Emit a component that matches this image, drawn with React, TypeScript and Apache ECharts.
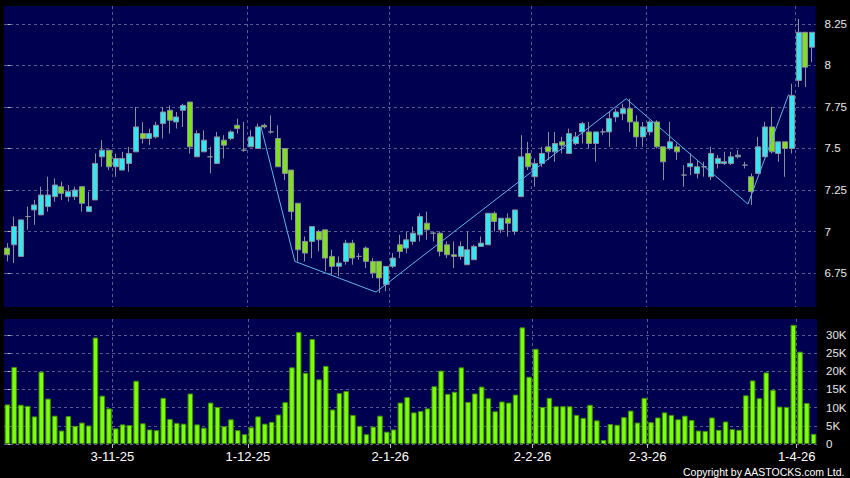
import React, { useEffect, useRef } from "react";
import * as echarts from "echarts";

// Trading days (d-m-yy)
const dates: string[] = [
  "9-10-25","10-10-25","13-10-25","14-10-25","15-10-25","16-10-25","17-10-25","20-10-25","21-10-25","22-10-25",
  "23-10-25","24-10-25","27-10-25","28-10-25","30-10-25","31-10-25",
  "3-11-25","4-11-25","5-11-25","6-11-25","7-11-25","10-11-25","11-11-25","12-11-25","13-11-25","14-11-25",
  "17-11-25","18-11-25","19-11-25","20-11-25","21-11-25","24-11-25","25-11-25","26-11-25","27-11-25","28-11-25",
  "1-12-25","2-12-25","3-12-25","4-12-25","5-12-25","8-12-25","9-12-25","10-12-25","11-12-25","12-12-25",
  "15-12-25","16-12-25","17-12-25","18-12-25","19-12-25","22-12-25","23-12-25","24-12-25","29-12-25","30-12-25","31-12-25",
  "2-1-26","5-1-26","6-1-26","7-1-26","8-1-26","9-1-26","12-1-26","13-1-26","14-1-26","15-1-26",
  "16-1-26","19-1-26","20-1-26","21-1-26","22-1-26","23-1-26","26-1-26","27-1-26","28-1-26","29-1-26","30-1-26",
  "2-2-26","3-2-26","4-2-26","5-2-26","6-2-26","9-2-26","10-2-26","11-2-26","12-2-26","13-2-26",
  "16-2-26","20-2-26","23-2-26","24-2-26","25-2-26","26-2-26","27-2-26",
  "2-3-26","3-3-26","4-3-26","5-3-26","6-3-26","9-3-26","10-3-26","11-3-26","12-3-26","13-3-26",
  "16-3-26","17-3-26","18-3-26","19-3-26","20-3-26","23-3-26","24-3-26","25-3-26","26-3-26","27-3-26",
  "30-3-26","31-3-26","1-4-26","2-4-26","8-4-26",
];

const opens: number[] = [
  6.90,6.92,6.85,7.09,7.13,7.10,7.15,7.21,7.27,7.21, 7.21,7.27,7.12,7.19,7.45,7.49,7.39,7.37,7.41,7.48,
  7.59,7.56,7.57,7.65,7.73,7.66,7.73,7.78,7.45,7.48, 7.45,7.41,7.55,7.56,7.64,7.49,7.51,7.50,7.64,7.60,
  7.56,7.50,7.37,7.17,6.94,6.94,7.00,7.01,6.85,6.79, 6.82,6.93,6.85,6.90,6.82,6.82,6.68,6.79,6.92,6.90,
  6.94,6.98,7.05,6.99,6.99,6.92,6.86,6.85,6.80,6.83, 6.91,6.92,7.11,7.01,7.08,7.00,7.21,7.47,7.33,7.41,
  7.51,7.48,7.54,7.47,7.53,7.60,7.60,7.53,7.60,7.60, 7.69,7.71,7.74,7.66,7.57,7.60,7.66,7.51,7.50,7.51,
  7.34,7.39,7.35,7.39,7.33,7.41,7.41,7.41,7.45,7.40, 7.33,7.35,7.45,7.63,7.47,7.54,7.50,7.91,8.20,8.11,
];
const closes: number[] = [
  6.86,7.03,7.07,7.09,7.16,7.22,7.22,7.28,7.23,7.24, 7.25,7.17,7.15,7.41,7.49,7.39,7.44,7.44,7.47,7.63,
  7.56,7.59,7.64,7.72,7.67,7.69,7.76,7.51,7.59,7.55, 7.45,7.57,7.52,7.60,7.62,7.49,7.57,7.63,7.63,7.60,
  7.39,7.35,7.12,6.89,6.87,7.03,6.95,6.84,6.79,6.81, 6.93,6.84,6.85,6.82,6.75,6.72,6.79,6.84,6.88,6.95,
  6.99,7.09,7.01,6.99,6.88,6.86,6.85,6.91,6.89,6.91, 6.93,7.11,7.06,7.08,7.05,7.13,7.45,7.39,7.41,7.47,
  7.48,7.53,7.52,7.59,7.57,7.65,7.53,7.60,7.60,7.68, 7.72,7.74,7.66,7.57,7.63,7.66,7.51,7.42,7.54,7.48,
  7.34,7.41,7.39,7.39,7.47,7.44,7.42,7.45,7.46,7.40, 7.24,7.51,7.63,7.48,7.54,7.50,7.82,8.20,7.99,8.20,
];
const lows: number[] = [
  6.82,6.81,6.85,7.01,7.04,7.10,7.12,7.18,7.19,7.18, 7.19,7.12,7.12,7.19,7.39,7.37,7.33,7.37,7.36,7.48,
  7.53,7.52,7.56,7.56,7.59,7.62,7.63,7.47,7.45,7.48, 7.35,7.41,7.44,7.55,7.59,7.48,7.51,7.50,7.62,7.59,
  7.39,7.31,7.07,6.82,6.82,6.84,6.88,6.76,6.74,6.73, 6.80,6.80,6.83,6.78,6.72,6.63,6.64,6.78,6.84,6.87,
  6.92,6.94,6.95,6.94,6.85,6.84,6.78,6.83,6.80,6.83, 6.91,6.92,7.00,6.99,6.97,6.98,7.21,7.37,7.27,7.39,
  7.43,7.42,7.47,7.47,7.52,7.53,7.50,7.42,7.58,7.51, 7.66,7.67,7.60,7.51,7.51,7.58,7.50,7.31,7.49,7.43,
  7.27,7.34,7.32,7.33,7.31,7.38,7.40,7.40,7.44,7.38, 7.16,7.35,7.45,7.47,7.42,7.33,7.47,7.87,7.87,8.02,
];
const highs: number[] = [
  6.93,7.09,7.07,7.15,7.19,7.27,7.33,7.32,7.30,7.28, 7.27,7.27,7.24,7.47,7.55,7.49,7.47,7.48,7.51,7.75,
  7.66,7.62,7.66,7.75,7.76,7.72,7.77,7.78,7.61,7.61, 7.51,7.60,7.58,7.61,7.68,7.66,7.61,7.65,7.65,7.70,
  7.64,7.50,7.37,7.17,6.97,7.03,7.01,7.01,6.89,6.85, 6.95,6.95,6.87,6.91,6.84,6.82,6.79,6.87,6.98,7.00,
  7.03,7.11,7.12,7.00,7.00,6.94,6.94,6.94,7.00,6.92, 6.97,7.11,7.12,7.08,7.11,7.13,7.58,7.54,7.44,7.51,
  7.60,7.60,7.57,7.62,7.60,7.66,7.66,7.60,7.62,7.72, 7.74,7.77,7.80,7.70,7.66,7.67,7.67,7.51,7.66,7.53,
  7.40,7.47,7.43,7.42,7.51,7.46,7.48,7.48,7.49,7.42, 7.35,7.57,7.66,7.75,7.54,7.54,7.89,8.28,8.20,8.20,
];

const volumes: number[] = [
  10900,21200,10800,10500,7600,19900,12500,7800,3700,7700, 5000,5900,5100,29300,13300,9800,4300,5400,5200,17400,
  5700,4000,3800,12700,6900,5800,5600,13900,5400,4500, 11400,10200,4900,6800,3800,2700,4600,7600,5600,6100,
  8100,11500,21100,30800,19600,28900,17800,21500,9500,14000, 14600,8000,5000,2700,4800,7800,3400,4000,11400,12900,
  8700,9100,9800,15900,20200,13800,14400,21100,11600,13900, 15800,12600,9000,11700,11400,13600,32100,18500,26200,10200,
  12700,10400,10400,10400,8000,7200,10800,6500,1100,5500, 5300,7400,9200,5900,12700,6000,7300,8700,8000,6800,
  7800,6600,3700,3600,7300,3900,6200,4100,3900,13400, 17500,12600,19700,14900,10300,10200,32800,25400,11300,2800,
];

// Zig-zag overlay pivots
const zigzagDates: string[] = ["3-12-25", "10-12-25", "30-12-25", "25-2-26", "23-3-26", "31-3-26"];
const zigzagValues: number[] = [7.63, 6.82, 6.635, 7.8, 7.165, 7.825];

const priceTicks: number[] = [6.75, 7, 7.25, 7.5, 7.75, 8, 8.25];
const volumeTicks: number[] = [0, 5000, 10000, 15000, 20000, 25000, 30000];
const dateTickLabels: string[] = ["3-11-25", "1-12-25", "2-1-26", "2-2-26", "2-3-26", "1-4-26"];

const PRICE_MIN = 6.5452;
const PRICE_MAX = 8.3584;
const VOLUME_MAX = 34400;

export default function App() {
  const ref = useRef<HTMLDivElement | null>(null);

  useEffect(() => {
    document.body.style.margin = "0";
    document.body.style.background = "#000";
    if (!ref.current) return;
    const chart = echarts.init(ref.current, undefined, { renderer: "svg" });

    const n = dates.length;
    const candleData = dates.map((_, i) => [opens[i], closes[i], lows[i], highs[i]]);
    const tickPos = dateTickLabels.map((d) => dates.indexOf(d) - 0.5);
    const zigzag = zigzagDates.map((d, i) => [dates.indexOf(d) - 0.5, zigzagValues[i]]);

    const navy = "#000050";
    const gridLine = { show: true, lineStyle: { color: "#5a5a8c", width: 1, type: [3, 3] as any } };
    const font = "Liberation Sans, Arial, sans-serif";
    const up = "#33E6F2";
    const down = "#80E020";
    const edge = "#8a8f99";

    chart.setOption({
      animation: false,
      backgroundColor: "#000000",
      grid: [
        { left: 4, top: 6, width: 813, height: 301, show: true, backgroundColor: navy, borderWidth: 0 },
        { left: 4, top: 319, width: 813, height: 125, show: true, backgroundColor: navy, borderWidth: 0 },
      ],
      xAxis: [
        { type: "category", gridIndex: 0, data: dates, boundaryGap: true, show: false },
        {
          type: "value", gridIndex: 0, min: -0.5, max: n - 0.5, position: "bottom",
          axisLine: { show: false },
          axisTick: { show: false, customValues: tickPos },
          axisLabel: { show: false, customValues: tickPos },
          splitLine: gridLine,
        },
        { type: "category", gridIndex: 1, data: dates, boundaryGap: true, show: false },
        {
          type: "value", gridIndex: 1, min: -0.5, max: n - 0.5, position: "bottom",
          axisLine: { show: false },
          axisTick: { show: true, length: 4, customValues: tickPos, lineStyle: { color: "#bbbbbb" } },
          axisLabel: {
            customValues: tickPos,
            color: "#ffffff",
            fontSize: 13,
            fontFamily: font,
            margin: 6,
            formatter: (v: number) => {
              const k = tickPos.indexOf(v);
              return k >= 0 ? dateTickLabels[k] : "";
            },
          },
          splitLine: gridLine,
        },
      ],
      yAxis: [
        {
          type: "value", gridIndex: 0, position: "right", min: PRICE_MIN, max: PRICE_MAX, offset: 4,
          axisLine: { show: false },
          axisTick: { show: true, length: 3, customValues: priceTicks, lineStyle: { color: "#bbbbbb" } },
          axisLabel: { customValues: priceTicks, color: "#e8e8e8", fontSize: 11.5, fontFamily: font, margin: 5 },
          splitLine: gridLine,
        },
        {
          type: "value", gridIndex: 1, position: "right", min: 0, max: VOLUME_MAX, offset: 4,
          axisLine: { show: false },
          axisTick: { show: true, length: 3, customValues: volumeTicks, lineStyle: { color: "#bbbbbb" } },
          axisLabel: {
            customValues: volumeTicks, color: "#e8e8e8", fontSize: 11.5, fontFamily: font, margin: 5,
            formatter: (v: number) => (v === 0 ? "0" : v / 1000 + "K"),
          },
          splitLine: gridLine,
        },
      ],
      series: [
        {
          type: "candlestick", xAxisIndex: 0, yAxisIndex: 0, data: candleData, barWidth: 5.5,
          itemStyle: { color: up, color0: down, borderColor: edge, borderColor0: edge, borderWidth: 1 },
          z: 2,
        },
        {
          type: "line", xAxisIndex: 1, yAxisIndex: 0, data: zigzag, symbol: "none",
          lineStyle: { color: "#5fb4ec", width: 1 }, z: 5,
        },
        {
          type: "bar", xAxisIndex: 2, yAxisIndex: 1, data: volumes, barWidth: 5.5,
          itemStyle: { color: "#7CFF0A", borderColor: "#3f8f00", borderWidth: 1 },
        },
      ],
      graphic: [
        {
          type: "text", right: 5, top: 466,
          style: { text: "Copyright by AASTOCKS.com Ltd.", fill: "#ffffff", font: `10.5px ${font}` },
        },
      ],
    });

    return () => chart.dispose();
  }, []);

  return <div ref={ref} style={{ width: 850, height: 478 }} />;
}
